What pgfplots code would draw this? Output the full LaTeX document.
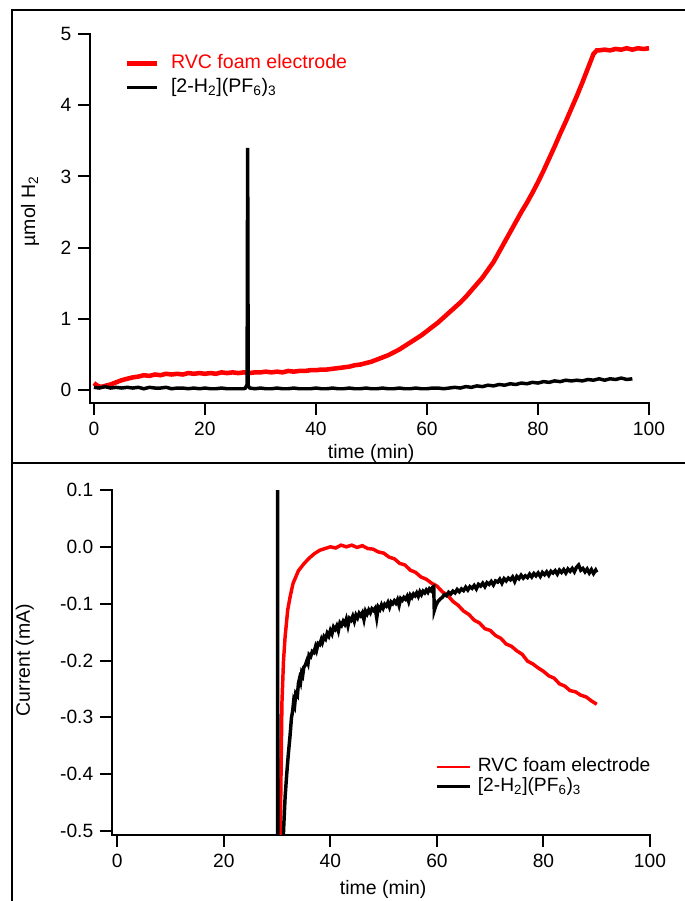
\documentclass[border=0pt]{standalone}
\usepackage{fontspec}
\setmainfont{Liberation Sans}
\usepackage{pgfplots}
\pgfplotsset{compat=1.18}

\pgfplotsset{
  igor/.style={
    scale only axis,
    axis x line*=bottom, axis y line*=left,
    tick align=outside,
    major tick length=9pt,
    axis line style={line width=1.5pt, line cap=rect},
    every tick/.style={line width=1.5pt, black},
    /pgf/number format/assume math mode=true,
    tick label style={font=\fontsize{14.4}{16}\selectfont},
    label style={font=\fontsize{14.6}{16}\selectfont},
    clip=true,
  }
}

\begin{document}
\fontsize{14.6}{16.8}\selectfont
\begin{tikzpicture}
\useasboundingbox (0,0) rectangle (513.75pt,675.75pt);
% panel frames
\draw[line width=1.5pt] (9pt,-2pt) -- (9pt,668.25pt) -- (516pt,668.25pt);
\draw[line width=1.5pt] (9pt,328.5pt) -- (516pt,328.5pt);

% ===================== TOP PANEL =====================
\begin{axis}[igor,
  at={(67.5pt,373.5pt)}, anchor=south west,
  width=419.25pt, height=276.75pt,
  xmin=-0.7, xmax=100, ymin=-0.18, ymax=5,
  xtick={0,20,40,60,80,100}, ytick={0,1,2,3,4,5},
  xlabel={time (min)}, ylabel={µmol H\textsubscript{2}},
  xlabel style={at={(axis description cs:0.503,-0.1355)}, anchor=center},
  ylabel style={at={(axis description cs:-0.107,0.52)}, anchor=center, rotate=0},
  legend image code/.code={\draw[#1] (0pt,0pt) -- (22.5pt,0pt);},
  legend style={at={(axis description cs:0.055,0.961)}, anchor=north west,
    draw=none, fill=none, legend cell align=left, row sep=0pt,
    /tikz/every odd column/.append style={column sep=7pt},
    nodes={inner sep=1.6pt, text height=11pt, text depth=4pt,
      font=\fontsize{14.7}{16}\selectfont}},
]
\addplot[red, line width=3.4pt] coordinates {
(0,0.10)(0.5,0.07)(1,0.05)(1.5,0.05)(2,0.06)(3,0.08)(4,0.11)(5,0.14)(6,0.16)(7,0.18)
(8,0.19)(9,0.21)(10,0.20)(11,0.22)(12,0.21)(13,0.23)(14,0.22)(15,0.23)(16,0.22)(17,0.24)
(18,0.23)(19,0.24)(20,0.23)(21,0.24)(22,0.23)(23,0.25)(24,0.24)(25,0.25)(26,0.24)(27,0.25)
(28,0.24)(29,0.25)(30,0.25)(31,0.26)(32,0.25)(33,0.26)(34,0.25)(35,0.27)(36,0.26)(37,0.27)
(38,0.27)(39,0.28)(40,0.28)(41,0.29)(42,0.29)(43,0.30)(44,0.31)(45,0.32)(46,0.33)(47,0.35)
(48,0.36)(49,0.38)(50,0.40)(51,0.43)(52,0.46)(53,0.49)(54,0.53)(55,0.57)(56,0.62)(57,0.67)
(58,0.72)(59,0.77)(60,0.83)(61,0.89)(62,0.95)(63,1.02)(64,1.09)(65,1.16)(66,1.23)(67,1.31)
(68,1.40)(69,1.49)(70,1.58)(71,1.69)(72,1.80)(73,1.94)(74,2.08)(75,2.22)(76,2.36)(77,2.50)
(78,2.63)(79,2.77)(80,2.92)(81,3.08)(82,3.25)(83,3.42)(84,3.60)(85,3.77)(86,3.95)(87,4.13)
(88,4.32)(89,4.52)(90,4.72)(90.6,4.77)(91,4.77)(92,4.78)(93,4.77)(94,4.79)(95,4.78)(96,4.80)
(97,4.78)(98,4.80)(99,4.79)(100,4.80)
};
\addlegendentry{\textcolor{red}{RVC foam electrode}}
\addplot[black, line width=2.6pt] coordinates {
(0,0.04)(1,0.03)(2,0.05)(3,0.03)(4,0.04)(5,0.03)(6,0.04)(7,0.03)(8,0.04)(9,0.02)
(10,0.04)(11,0.03)(12,0.03)(13,0.04)(14,0.02)(15,0.03)(16,0.03)(17,0.02)(18,0.03)(19,0.02)
(20,0.03)(21,0.02)(22,0.02)(23,0.03)(24,0.02)(25,0.02)(26,0.02)(27,0.02)(27.3,0.03)(27.6,0.08)
(27.7,3.40)(27.8,0.06)(28.1,0.03)(29,0.02)(30,0.03)(31,0.02)(32,0.02)(33,0.03)(34,0.02)(35,0.02)
(36,0.03)(37,0.02)(38,0.02)(39,0.02)(40,0.03)(41,0.02)(42,0.02)(43,0.03)(44,0.02)(45,0.02)
(46,0.03)(47,0.02)(48,0.02)(49,0.03)(50,0.02)(51,0.02)(52,0.03)(53,0.02)(54,0.02)(55,0.03)
(56,0.02)(57,0.02)(58,0.03)(59,0.02)(60,0.02)(61,0.03)(62,0.03)(63,0.02)(64,0.03)(65,0.04)
(66,0.03)(67,0.05)(68,0.04)(69,0.06)(70,0.05)(71,0.07)(72,0.06)(73,0.08)(74,0.07)(75,0.09)
(76,0.08)(77,0.10)(78,0.09)(79,0.11)(80,0.10)(81,0.12)(82,0.11)(83,0.13)(84,0.12)(85,0.14)
(86,0.13)(87,0.14)(88,0.13)(89,0.15)(90,0.14)(91,0.16)(92,0.14)(93,0.16)(94,0.15)(95,0.17)
(96,0.15)(97,0.16)
};
\addlegendentry{[2-H\textsubscript{2}](PF\textsubscript{6})\textsubscript{3}}
\end{axis}

% ===================== BOTTOM PANEL =====================
\begin{axis}[igor,
  at={(84pt,49.5pt)}, anchor=south west,
  width=403.5pt, height=258.75pt,
  xmin=-1, xmax=100, ymin=-0.507, ymax=0.1,
  xtick={0,20,40,60,80,100}, ytick={-0.5,-0.4,-0.3,-0.2,-0.1,0,0.1},
  yticklabel style={/pgf/number format/.cd, fixed, fixed zerofill, precision=1},
  xlabel={time (min)}, ylabel={Current (mA)},
  xlabel style={at={(axis description cs:0.504,-0.159)}, anchor=center},
  ylabel style={at={(axis description cs:-0.162,0.507)}, anchor=center},
  legend image code/.code={\draw[#1] (0pt,0pt) -- (24.75pt,0pt);},
  legend style={at={(axis description cs:0.593,0.236)}, anchor=north west,
    draw=none, fill=none, legend cell align=left, row sep=0pt,
    /tikz/every odd column/.append style={column sep=5pt},
    nodes={inner sep=0pt, text height=11pt, text depth=4pt,
      font=\fontsize{14.4}{16}\selectfont}},
]
\addlegendimage{red, line width=1.5pt}
\addlegendentry{RVC foam electrode}
\addlegendimage{black, line width=2.2pt}
\addlegendentry{[2-H\textsubscript{2}](PF\textsubscript{6})\textsubscript{3}}
\addplot[red, line width=2.6pt, forget plot] coordinates {
(30.3,-0.9)(30.6,-0.50)(30.8,-0.35)(30.9,-0.275)(31.2,-0.20)(31.5,-0.158)(32,-0.11)(32.5,-0.085)
(33,-0.064)(34,-0.042)(35,-0.030)(36,-0.020)(37,-0.012)(38,-0.006)(39,-0.003)(40,0.000)
(41,-0.002)(42,0.003)(43,0.000)(44,0.003)(45,-0.001)(46,0.002)(47,-0.003)(48,-0.004)
(49,-0.009)(50,-0.011)(51,-0.018)(52,-0.021)(53,-0.029)(54,-0.032)(55,-0.041)(56,-0.045)
(57,-0.053)(58,-0.057)(59,-0.064)(60,-0.069)(61,-0.079)(62,-0.085)(63,-0.096)(64,-0.103)
(65,-0.113)(66,-0.119)(67,-0.129)(68,-0.134)(69,-0.144)(70,-0.147)(71,-0.156)(72,-0.161)
(73,-0.171)(74,-0.175)(75,-0.183)(76,-0.189)(77,-0.201)(78,-0.206)(79,-0.213)(80,-0.219)
(81,-0.227)(82,-0.231)(83,-0.241)(84,-0.245)(85,-0.253)(86,-0.255)(87,-0.261)(88,-0.264)
(89,-0.271)(90,-0.277)
};
\addplot[black, line width=2.6pt, forget plot] coordinates {
(30.1,-0.9)(30.1,0.1)(30.15,-0.9)(31.0,-0.9)
(31.2,-0.50)(31.5,-0.44)(31.8,-0.40)(32.1,-0.365)(32.4,-0.335)(32.7,-0.30)(32.9,-0.29)(33.1,-0.272)
(33.3,-0.278)(33.5,-0.258)(33.8,-0.262)(34.0,-0.24)(34.2,-0.232)(34.4,-0.238)(34.6,-0.222)(34.8,-0.226)
(35.0,-0.212)(35.3,-0.208)(35.6,-0.20)(35.8,-0.205)(36.0,-0.19)(36.3,-0.193)(36.6,-0.184)(36.9,-0.186)
(37.2,-0.176)(37.4,-0.182)(37.7,-0.170)(38.0,-0.172)(38.3,-0.163)(38.5,-0.168)(38.8,-0.158)(39.1,-0.162)
(39.4,-0.152)(39.7,-0.157)(40.0,-0.147)(40.3,-0.153)(40.6,-0.141)(40.9,-0.145)(41.2,-0.139)(41.5,-0.148)
(41.8,-0.134)(42.1,-0.138)(42.4,-0.131)(42.7,-0.136)(43.0,-0.127)(43.3,-0.139)(43.6,-0.126)(43.9,-0.129)
(44.2,-0.122)(44.5,-0.131)(44.8,-0.120)(45.1,-0.125)(45.4,-0.117)(45.7,-0.121)(46.0,-0.116)(46.3,-0.128)
(46.6,-0.113)(46.9,-0.118)(47.2,-0.111)(47.5,-0.116)(47.8,-0.109)(48.1,-0.112)(48.4,-0.108)(48.7,-0.125)
(49.0,-0.106)(49.3,-0.110)(49.6,-0.102)(49.9,-0.108)(50.2,-0.101)(50.5,-0.104)(50.8,-0.098)(51.1,-0.106)
(51.4,-0.097)(51.7,-0.100)(52.0,-0.095)(52.3,-0.099)(52.6,-0.093)(52.9,-0.103)(53.2,-0.091)(53.5,-0.094)
(53.8,-0.089)(54.1,-0.092)(54.4,-0.087)(54.7,-0.096)(55.0,-0.085)(55.3,-0.089)(55.6,-0.083)(55.9,-0.086)
(56.2,-0.081)(56.5,-0.087)(56.8,-0.079)(57.1,-0.084)(57.4,-0.078)(57.7,-0.081)(58.0,-0.076)(58.3,-0.080)
(58.6,-0.074)(58.9,-0.077)(59.2,-0.071)(59.4,-0.070)(59.5,-0.112)(59.8,-0.103)(60.2,-0.096)(60.6,-0.092)
(61.0,-0.089)(61.4,-0.084)(61.8,-0.086)(62.2,-0.080)(62.6,-0.083)(63.0,-0.078)(63.4,-0.081)(63.8,-0.075)
(64.2,-0.079)(64.6,-0.074)(65.0,-0.077)(65.4,-0.071)(65.8,-0.076)(66.2,-0.070)(66.6,-0.073)(67.0,-0.068)
(67.4,-0.074)(67.8,-0.066)(68.2,-0.069)(68.6,-0.064)(69.0,-0.070)(69.4,-0.063)(69.8,-0.066)(70.2,-0.061)
(70.6,-0.067)(71.0,-0.060)(71.4,-0.062)(71.8,-0.057)(72.2,-0.064)(72.6,-0.056)(73.0,-0.060)(73.4,-0.055)
(73.8,-0.058)(74.2,-0.053)(74.6,-0.061)(75.0,-0.052)(75.4,-0.056)(75.8,-0.050)(76.2,-0.055)(76.6,-0.051)
(77.0,-0.054)(77.4,-0.048)(77.8,-0.053)(78.2,-0.047)(78.6,-0.051)(79.0,-0.046)(79.4,-0.052)(79.8,-0.045)
(80.2,-0.049)(80.6,-0.044)(81.0,-0.050)(81.4,-0.043)(81.8,-0.046)(82.2,-0.042)(82.6,-0.048)(83.0,-0.041)
(83.4,-0.045)(83.8,-0.040)(84.2,-0.046)(84.6,-0.039)(85.0,-0.043)(85.4,-0.038)(85.8,-0.044)(86.2,-0.036)
(86.6,-0.032)(87.0,-0.041)(87.4,-0.038)(87.8,-0.044)(88.2,-0.039)(88.6,-0.046)(89.0,-0.040)(89.4,-0.047)
(89.8,-0.041)(90.0,-0.045)
};
\end{axis}
\end{tikzpicture}
\end{document}
